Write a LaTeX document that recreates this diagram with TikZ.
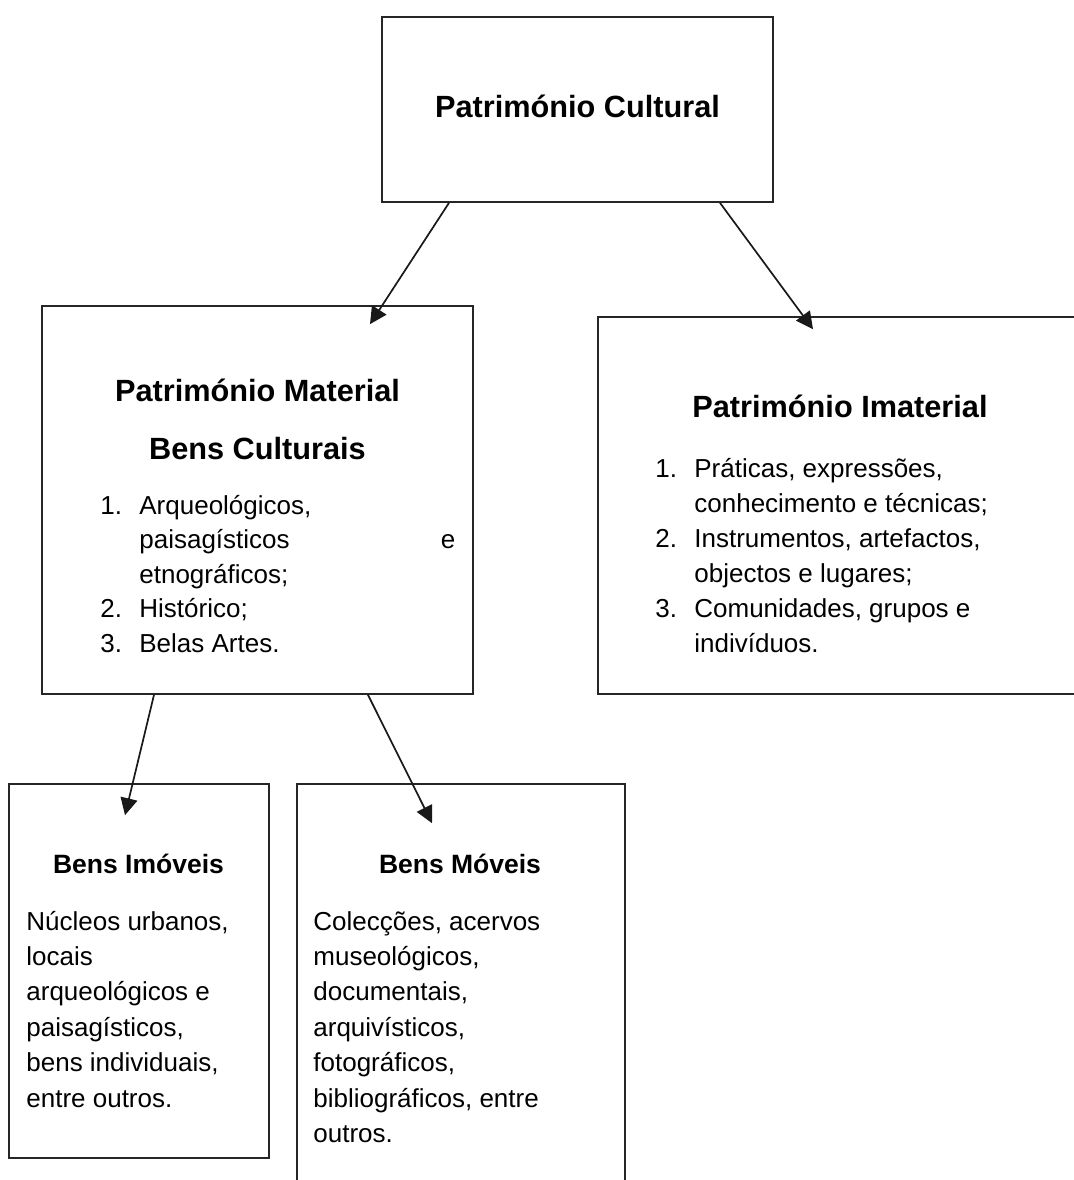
\documentclass[tikz,border=0pt]{standalone}
\usepackage{fontspec}
\setmainfont{Liberation Sans}
\usepackage{tikz}
\usetikzlibrary{arrows.meta}

\tikzset{
	box/.style={draw=black!85, line width=0.85pt, rectangle, inner sep=0pt},
	head/.style={font=\bfseries\fontsize{15.35}{18}\selectfont, inner sep=0pt, anchor=base},
	subhead/.style={font=\bfseries\fontsize{13.25}{16}\selectfont, inner sep=0pt, anchor=base},
	body/.style={font=\fontsize{13}{17.5}\selectfont, inner sep=0pt, anchor=base west},
	link/.style={draw=black!90, line width=0.85pt, -{Triangle[length=8.5pt,width=8.5pt]}}
}

\begin{document}
\begin{tikzpicture}[x=0.5pt, y=-0.5pt]
	\useasboundingbox (0,0) rectangle (1073,1180);
	\node[box, minimum width=195.5pt, minimum height=92.5pt] (cult) at (577.5,109.5) {};
	\node[box, minimum width=215.5pt, minimum height=194pt] (mat) at (257.5,500) {};
	\node[box, minimum width=246pt, minimum height=188.5pt] (imat) at (844,505.5) {};
	\node[box, minimum width=130pt, minimum height=187pt] (imov) at (139,971) {};
	\node[box, minimum width=164pt, minimum height=208pt] (mov) at (461,992) {};
	\draw[link] ([xshift=-64.25pt]cult.south) -- ([xshift=56.25pt,yshift=-9.5pt]mat.north);
	\draw[link] ([xshift=71.25pt]cult.south) -- ([xshift=-15.5pt,yshift=-6.5pt]imat.north);
	\draw[link] ([xshift=-51.75pt]mat.south) -- ([xshift=-7pt,yshift=-16pt]imov.north);
	\draw[link] ([xshift=55.25pt]mat.south) -- ([xshift=-14.5pt,yshift=-20pt]mov.north);
	\node[head] (cultname) at (577.5,117) {Património Cultural};
	\node[head] (matname) at (257.5,401) {Património Material};
	\node[head] (matsub) at (257.5,459) {Bens Culturais};
	\node[body, font=\fontsize{13}{17.25}\selectfont] (matlist) at (100,514) {\begin{tabular}[t]{@{}p{19.5pt}@{}l@{}}
		1. & Arqueológicos,\\
		 & \hbox to 158pt{paisagísticos\hfill e}\\
		 & etnográficos;\\
		2. & Histórico;\\
		3. & Belas Artes.
	\end{tabular}};
	\node[head] (imatname) at (840,417) {Património Imaterial};
	\node[body] (imatlist) at (655,477) {\begin{tabular}[t]{@{}p{19.5pt}@{}l@{}}
		1. & Práticas, expressões,\\
		 & conhecimento e técnicas;\\
		2. & Instrumentos, artefactos,\\
		 & objectos e lugares;\\
		3. & Comunidades, grupos e\\
		 & indivíduos.
	\end{tabular}};
	\node[subhead] (imovname) at (138.5,873) {Bens Imóveis};
	\node[body, font=\fontsize{13}{17.7}\selectfont] (imovtext) at (26,930) {\begin{tabular}[t]{@{}l@{}}
		Núcleos urbanos,\\
		locais\\
		arqueológicos e\\
		paisagísticos,\\
		bens individuais,\\
		entre outros.
	\end{tabular}};
	\node[subhead] (movname) at (460,873) {Bens Móveis};
	\node[body, font=\fontsize{13}{17.7}\selectfont] (movtext) at (313,930) {\begin{tabular}[t]{@{}l@{}}
		Colecções, acervos\\
		museológicos,\\
		documentais,\\
		arquivísticos,\\
		fotográficos,\\
		bibliográficos, entre\\
		outros.
	\end{tabular}};
\end{tikzpicture}
\end{document}
